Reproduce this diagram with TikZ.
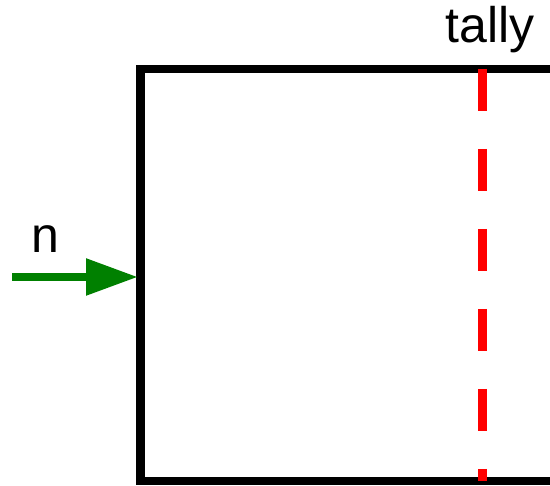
\documentclass[tikz,border=0pt]{standalone}
\usepackage{fontspec}
\setmainfont{Liberation Sans}
\usetikzlibrary{arrows.meta}
\definecolor{arrowgreen}{RGB}{0,128,0}
\definecolor{tallyred}{RGB}{255,0,0}
\tikzset{
  boxline/.style={draw=black, line width=8.5pt},
  tallyline/.style={draw=tallyred, line width=9pt, dash pattern=on 42pt off 38pt},
  inarrow/.style={draw=arrowgreen, line width=8.5pt, -{Triangle[length=52pt,width=35pt]}},
  lbl/.style={font=\fontsize{50}{60}\selectfont, inner sep=0pt, anchor=base}
}
\begin{document}
\begin{tikzpicture}[x=1pt,y=1pt]
  \useasboundingbox (0,0) rectangle (550,486);
  \clip (0,0) rectangle (550,486);
  \fill[white] (0,0) rectangle (550,486);
  % box corners
  \coordinate (boxsw) at (140.5,5);
  \coordinate (boxne) at (620,417);
  \draw[boxline] (boxsw) rectangle (boxne);
  % tally line
  \coordinate (tallytop) at (482.5,417);
  \coordinate (tallybot) at (482.5,5);
  \draw[tallyline] (tallytop) -- (tallybot);
  \node[lbl] (tally) at (490,443) {tally};
  % input arrow
  \coordinate (arrowstart) at (12,209);
  \coordinate (arrowend) at (138,209);
  \draw[inarrow] (arrowstart) -- (arrowend);
  \node[lbl] (nlabel) at (45,233) {n};
\end{tikzpicture}
\end{document}
